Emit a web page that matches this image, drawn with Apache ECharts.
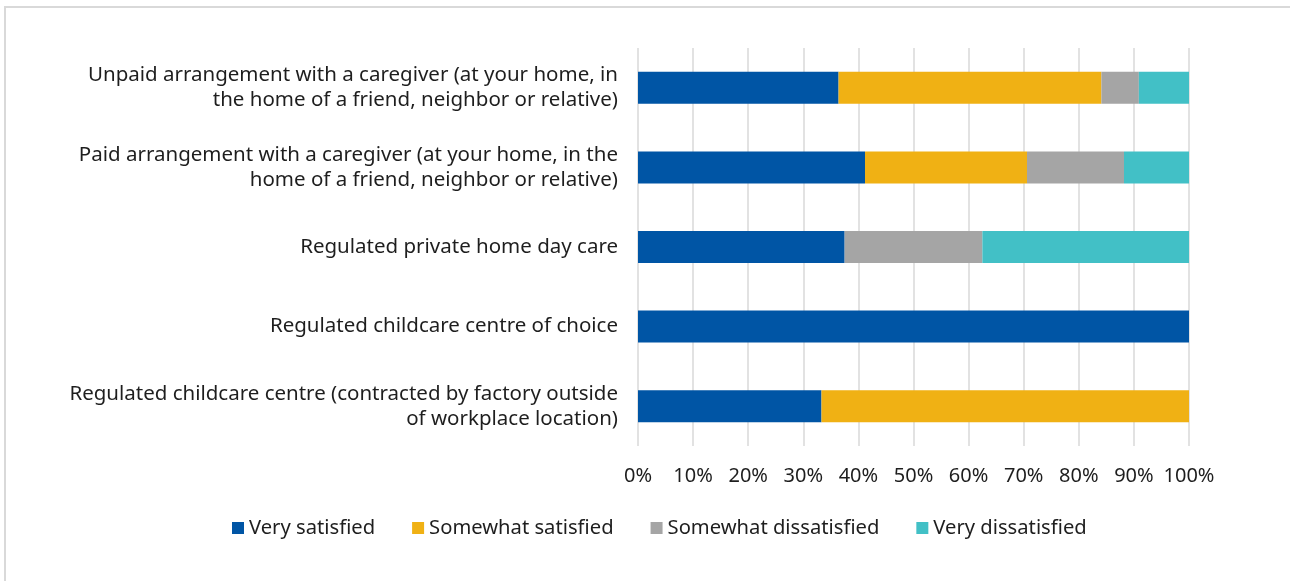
<!DOCTYPE html>
<html>
<head>
<meta charset="utf-8">
<style>
  html, body { margin: 0; padding: 0; background: #ffffff; }
  #chart { width: 1290px; height: 581px; }
</style>
<script src="https://cdn.jsdelivr.net/npm/echarts@6/dist/echarts.min.js"></script>
</head>
<body>
<div id="chart"></div>
<script>
// Childcare arrangement categories (top to bottom)
const categories = [
  'Unpaid arrangement with a caregiver (at your home, in\nthe home of a friend, neighbor or relative)',
  'Paid arrangement with a caregiver (at your home, in the\nhome of a friend, neighbor or relative)',
  'Regulated private home day care',
  'Regulated childcare centre of choice',
  'Regulated childcare centre (contracted by factory outside\nof workplace location)'
];

// Satisfaction shares, percent of respondents per arrangement
const verySatisfied        = [36.4, 41.2, 37.5, 100, 33.3];
const somewhatSatisfied    = [47.7, 29.4, 0,    0,   66.7];
const somewhatDissatisfied = [6.8,  17.6, 25.0, 0,   0];
const veryDissatisfied     = [9.1,  11.8, 37.5, 0,   0];

const seriesNames = ['Very satisfied', 'Somewhat satisfied', 'Somewhat dissatisfied', 'Very dissatisfied'];
const seriesColors = ['#0055A5', '#F0B114', '#A5A5A5', '#42C0C6'];
const seriesValues = [verySatisfied, somewhatSatisfied, somewhatDissatisfied, veryDissatisfied];

const FONT = '"Noto Sans", "Open Sans", sans-serif';
const TEXT_COLOR = '#1e1e1e';

const chart = echarts.init(document.getElementById('chart'), null, { renderer: 'canvas' });

chart.setOption({
  backgroundColor: '#ffffff',
  animation: false,
  textStyle: { fontFamily: FONT },
  graphic: [{
    type: 'rect',
    shape: { x: 5, y: 7, width: 1300, height: 600 },
    style: { fill: 'none', stroke: '#d9d9d9', lineWidth: 2 },
    silent: true,
    z: -10
  }],
  grid: { left: 638, right: 101, top: 48, bottom: 135, containLabel: false },
  legend: {
    data: seriesNames,
    top: 513,
    left: 227,
    itemWidth: 12,
    itemHeight: 12,
    itemGap: 37,
    icon: 'rect',
    textStyle: { fontFamily: FONT, fontSize: 20.2, color: TEXT_COLOR }
  },
  xAxis: {
    type: 'value',
    min: 0,
    max: 100,
    interval: 10,
    axisLabel: {
      formatter: '{value}%',
      fontFamily: FONT,
      fontSize: 20,
      color: TEXT_COLOR,
      margin: 20
    },
    axisLine: { show: false },
    axisTick: { show: false },
    splitLine: { show: true, lineStyle: { color: '#d9d9d9', width: 1.5 } }
  },
  yAxis: {
    type: 'category',
    data: categories,
    inverse: true,
    axisLine: { show: false },
    axisTick: { show: false },
    axisLabel: {
      fontFamily: FONT,
      fontSize: 20.5,
      lineHeight: 25,
      color: TEXT_COLOR,
      align: 'right',
      margin: 20,
      padding: [3, 0, 0, 0]
    }
  },
  series: seriesNames.map((name, i) => ({
    name: name,
    type: 'bar',
    stack: 'total',
    barWidth: 32,
    data: seriesValues[i],
    itemStyle: { color: seriesColors[i] }
  }))
});
</script>
</body>
</html>
